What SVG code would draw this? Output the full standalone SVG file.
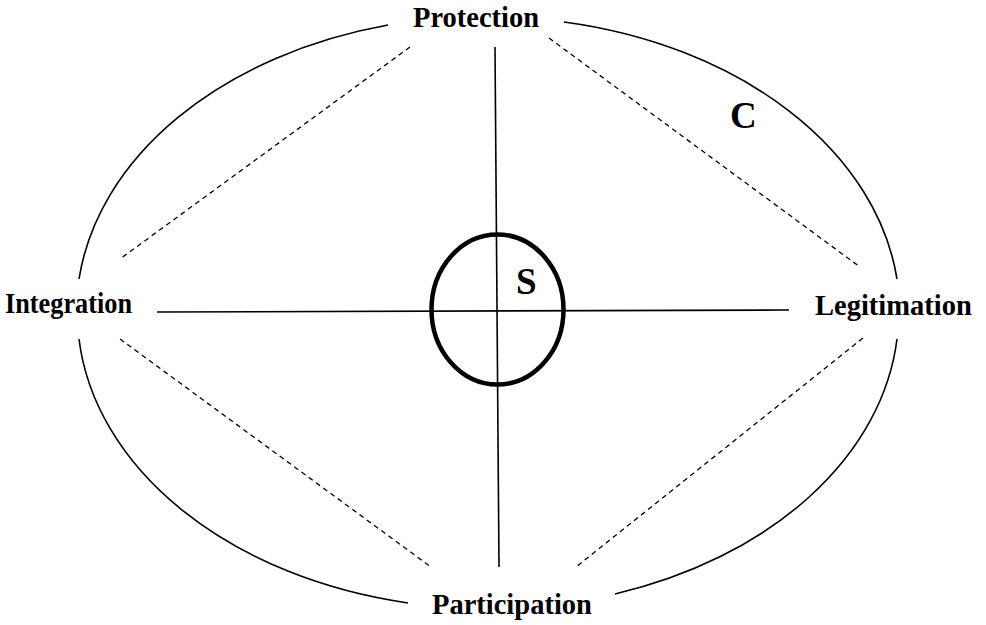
<svg xmlns="http://www.w3.org/2000/svg" width="986" height="625" viewBox="0 0 986 625">
<style>
.arc{fill:none;stroke:#000;stroke-width:1.6}
.dash{fill:none;stroke:#000;stroke-width:1.3;stroke-dasharray:5 4}
.axis{fill:none;stroke:#000;stroke-width:1.6}
.lbl{font-family:"Liberation Serif","Times New Roman",serif;font-weight:bold;font-size:28.5px;fill:#000}
.big{font-family:"Liberation Serif","Times New Roman",serif;font-weight:bold;font-size:37px;fill:#000}
</style>
<rect width="986" height="625" fill="#fff"/>
<g id="outer-ellipse">
<path class="arc" d="M 388 25 A 411 296 0 0 0 79 279"/>
<path class="arc" d="M 564 22 A 411 296 0 0 1 897 279"/>
<path class="arc" d="M 897 339 A 411 296 0 0 1 615 594"/>
<path class="arc" d="M 408 603 A 411 296 0 0 1 79 339"/>
</g>
<g id="connectors">
<line class="dash" x1="410" y1="47" x2="120" y2="259"/>
<line class="dash" x1="549" y1="38" x2="860" y2="267"/>
<line class="dash" x1="120" y1="339" x2="431" y2="567"/>
<line class="dash" x1="863" y1="338" x2="576" y2="567"/>
<line class="axis" x1="495" y1="47" x2="499" y2="567"/>
<line class="axis" x1="157" y1="312" x2="789" y2="310"/>
</g>
<g id="S">
<ellipse cx="497.5" cy="309.5" rx="66" ry="75" fill="none" stroke="#000" stroke-width="4.5"/>
<text class="big" x="516" y="294">S</text>
</g>
<g id="C">
<text class="big" x="730" y="128">C</text>
</g>
<g id="protection"><text class="lbl" x="413" y="27">Protection</text></g>
<g id="integration"><text class="lbl" x="5" y="313" textLength="127" lengthAdjust="spacingAndGlyphs">Integration</text></g>
<g id="legitimation"><text class="lbl" x="815" y="315">Legitimation</text></g>
<g id="participation"><text class="lbl" x="432" y="614">Participation</text></g>
</svg>
